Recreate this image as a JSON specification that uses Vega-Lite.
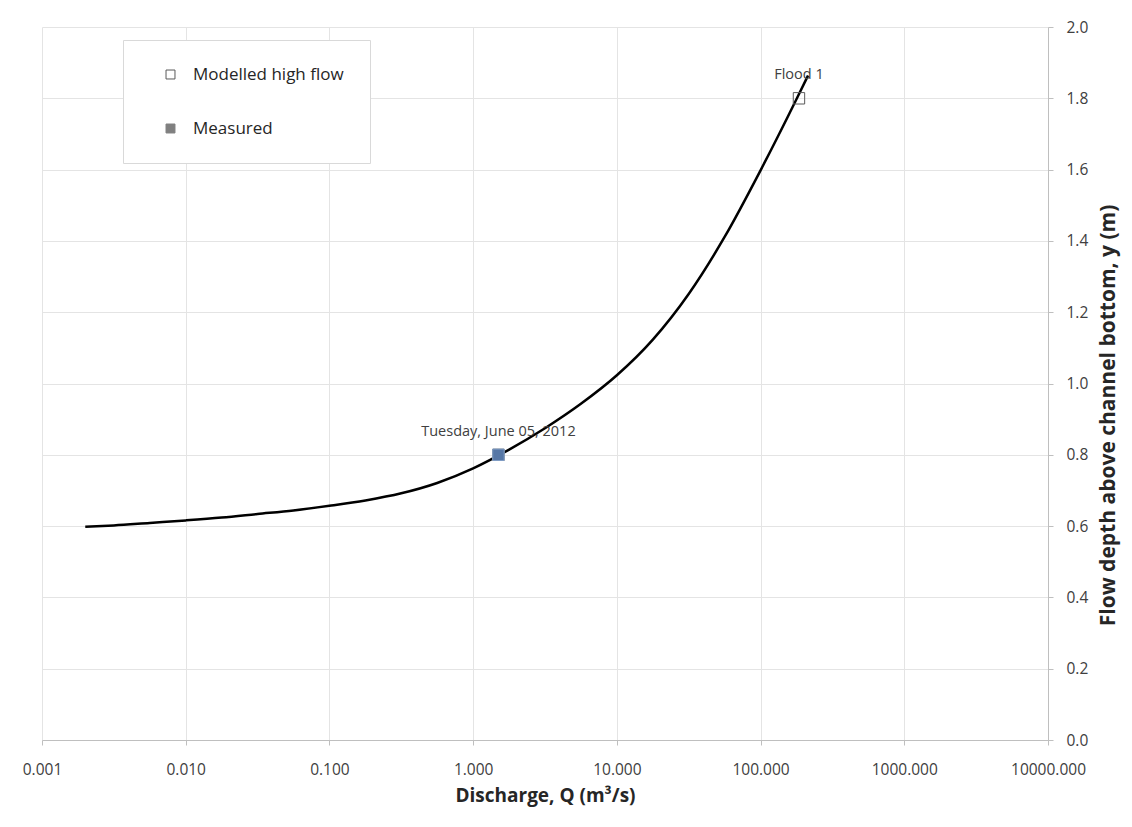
{
  "$schema": "https://vega.github.io/schema/vega-lite/v6.json",
  "width": 1006,
  "height": 713,
  "autosize": {"type": "none"},
  "padding": {"left": 42, "top": 27, "right": 84, "bottom": 87},
  "background": "white",
  "config": {
    "font": "Open Sans",
    "view": {"stroke": null},
    "axis": {
      "labelFont": "Open Sans",
      "titleFont": "Open Sans",
      "labelColor": "#404040",
      "titleColor": "#262626",
      "gridColor": "#e4e4e4",
      "domainColor": "#bfbfbf",
      "tickColor": "#bfbfbf",
      "labelFontSize": 15.5,
      "titleFontSize": 19,
      "titleFontWeight": "bold"
    }
  },
  "datasets": {
    "curve": [
      {"Q": 0.002, "y": 0.598},
      {"Q": 0.00316, "y": 0.602},
      {"Q": 0.00562, "y": 0.609},
      {"Q": 0.01, "y": 0.616},
      {"Q": 0.0178, "y": 0.624},
      {"Q": 0.0316, "y": 0.634},
      {"Q": 0.0562, "y": 0.644},
      {"Q": 0.1, "y": 0.657},
      {"Q": 0.178, "y": 0.672},
      {"Q": 0.316, "y": 0.692},
      {"Q": 0.562, "y": 0.721},
      {"Q": 1.0, "y": 0.762},
      {"Q": 1.78, "y": 0.8145},
      {"Q": 3.16, "y": 0.8745},
      {"Q": 5.62, "y": 0.943},
      {"Q": 10, "y": 1.023},
      {"Q": 17.8, "y": 1.123},
      {"Q": 31.6, "y": 1.251},
      {"Q": 56.2, "y": 1.411},
      {"Q": 100, "y": 1.598},
      {"Q": 178, "y": 1.798},
      {"Q": 214, "y": 1.864}
    ],
    "points": [
      {"Q": 185, "y": 1.8, "series": "Modelled high flow", "label": "Flood 1"},
      {"Q": 1.5, "y": 0.8, "series": "Measured", "label": "Tuesday, June 05, 2012"}
    ]
  },
  "layer": [
    {
      "data": {"name": "curve"},
      "mark": {"type": "line", "color": "black", "strokeWidth": 2.5, "interpolate": "monotone"},
      "encoding": {
        "x": {
          "field": "Q",
          "type": "quantitative",
          "scale": {"type": "log", "domain": [0.001, 10000], "nice": false},
          "axis": {
            "values": [0.001, 0.01, 0.1, 1, 10, 100, 1000, 10000],
            "format": ".3f",
            "title": "Discharge, Q (m³/s)",
            "tickSize": 5,
            "labelPadding": 17,
            "titlePadding": 9,
            "labelFlush": false
          }
        },
        "y": {
          "field": "y",
          "type": "quantitative",
          "scale": {"domain": [0, 2], "nice": false},
          "axis": {
            "orient": "right",
            "values": [0, 0.2, 0.4, 0.6, 0.8, 1.0, 1.2, 1.4, 1.6, 1.8, 2.0],
            "format": ".1f",
            "title": "Flow depth above channel bottom, y (m)",
            "titleFontSize": 21,
            "titleAngle": 270,
            "titleBaseline": "top",
            "titleAlign": "center",
            "titleY": 388,
            "tickSize": 5,
            "labelPadding": 13,
            "titlePadding": 10
          }
        }
      }
    },
    {
      "data": {"name": "points"},
      "mark": {"type": "point", "shape": "square", "filled": true, "size": 130, "strokeWidth": 1, "opacity": 1},
      "encoding": {
        "x": {"field": "Q", "type": "quantitative"},
        "y": {"field": "y", "type": "quantitative"},
        "fill": {
          "field": "series",
          "type": "nominal",
          "scale": {"domain": ["Modelled high flow", "Measured"], "range": ["transparent", "#808080"]},
          "legend": {
            "title": null,
            "orient": "none",
            "legendX": 81,
            "legendY": 13,
            "padding": 26,
            "symbolOffset": 13,
            "rowPadding": 36,
            "labelFontSize": 17,
            "labelFont": "Open Sans",
            "labelColor": "#262626",
            "labelOffset": 14,
            "symbolSize": 80,
            "symbolType": "square",
            "symbolStrokeWidth": 1,
            "fillColor": "white",
            "strokeColor": "#d9d9d9"
          }
        },
        "stroke": {
          "field": "series",
          "type": "nominal",
          "scale": {"domain": ["Modelled high flow", "Measured"], "range": ["#595959", "#808080"]},
          "legend": null
        }
      }
    },
    {
      "data": {"name": "points"},
      "transform": [{"filter": "datum.series === 'Measured'"}],
      "mark": {"type": "point", "shape": "square", "filled": true, "size": 130, "strokeWidth": 1, "opacity": 1, "fill": "#5677a6", "stroke": "#7f9cc4"},
      "encoding": {
        "x": {"field": "Q", "type": "quantitative"},
        "y": {"field": "y", "type": "quantitative"}
      }
    },
    {
      "data": {"name": "points"},
      "mark": {"type": "text", "fontSize": 14.5, "font": "Open Sans", "color": "#404040", "dy": -23, "baseline": "middle"},
      "encoding": {
        "x": {"field": "Q", "type": "quantitative"},
        "y": {"field": "y", "type": "quantitative"},
        "text": {"field": "label"}
      }
    }
  ]
}
